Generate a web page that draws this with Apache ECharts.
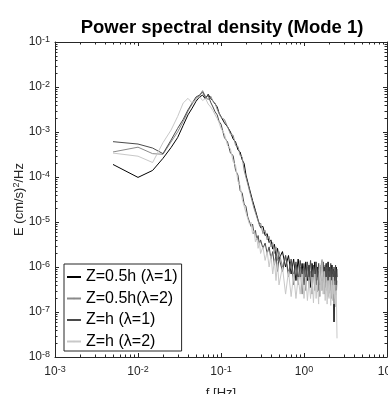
<!DOCTYPE html>
<html>
<head>
<meta charset="utf-8">
<script src="https://cdn.jsdelivr.net/npm/echarts@6/dist/echarts.min.js"></script>
<style>
html,body{margin:0;padding:0;background:#fff;}
#c{width:388px;height:394px;}
</style>
</head>
<body>
<div id="c"></div>
<script>
const freq = [0.005,0.01,0.015,0.02,0.025,0.03,0.035,0.04,0.045,0.05,
0.055,0.06,0.065,0.07,0.075,0.08,0.085,0.09,0.095,0.1,
0.11,0.12,0.13,0.14,0.15,0.16,0.17,0.18,0.19,0.2,
0.21,0.22,0.23,0.24,0.25,0.26,0.27,0.28,0.29,0.3,
0.32,0.34,0.36,0.38,0.4,0.42,0.44,0.46,0.48,0.5,
0.55,0.6,0.65,0.7,0.75,0.8,0.85,0.9,0.95,1.0,
1.05,1.1,1.15,1.2,1.25,1.3,1.35,1.4,1.45,1.5,
1.55,1.6,1.65,1.7,1.75,1.8,1.85,1.9,1.95,2.0,
2.05,2.1,2.15,2.2,2.25,2.3,2.35,2.4,2.45,2.5];

const seriesNames = ['Z=0.5h (\u03bb=1)','Z=0.5h(\u03bb=2)','Z=h (\u03bb=1)','Z=h (\u03bb=2)'];

const e05h_l1 = [1.9e-4,9.8e-5,1.4e-4,2.6e-4,4.5e-4,7.5e-4,1.4e-3,2.4e-3,3.4e-3,4.8e-3,
6.0e-3,6.6e-3,5.4e-3,6.9e-3,5.6e-3,4.9e-3,4.2e-3,3.6e-3,2.6e-3,2.4e-3,
1.6e-3,1.3e-3,1.0e-3,7.0e-4,6.0e-4,4.0e-4,3.6e-4,2.4e-4,2.0e-4,1.1e-4,
1.0e-4,5.5e-5,5.0e-5,3.0e-5,2.8e-5,1.8e-5,1.8e-5,1.1e-5,1.2e-5,7.5e-6,
8e-6,5e-6,5.5e-6,3.5e-6,4e-6,2.5e-6,3.2e-6,1.8e-6,2.6e-6,1.5e-6,
2.2e-6,1.0e-6,1.8e-6,7e-7,1.5e-6,5e-7,1.5e-6,6e-7,1.2e-6,4e-7,
1.3e-6,5e-7,1.1e-6,3.5e-7,1.2e-6,6e-7,1.3e-6,4e-7,1.0e-6,3e-7,
1.1e-6,5e-7,1.4e-6,4.5e-7,1.0e-6,3.5e-7,1.2e-6,5e-7,1.3e-6,4e-7,
1.0e-6,3e-7,1.1e-6,4e-7,9e-7,6e-8,8e-7,3e-7,1.0e-6,6e-7];

const e05h_l2 = [3.6e-4,4.6e-4,3.3e-4,3.2e-4,6.0e-4,1.0e-3,1.7e-3,2.9e-3,4.2e-3,5.6e-3,
6.4e-3,8.3e-3,6.2e-3,5.2e-3,6.3e-3,4.8e-3,4.4e-3,3.2e-3,3.0e-3,2.1e-3,
1.9e-3,1.3e-3,9e-4,8.5e-4,5.0e-4,4.8e-4,3.0e-4,2.8e-4,1.4e-4,1.3e-4,
7e-5,6.5e-5,3.6e-5,3.4e-5,2.0e-5,2.1e-5,1.3e-5,1.4e-5,8.5e-6,9.5e-6,
5.5e-6,6.5e-6,4e-6,4.8e-6,2.8e-6,3.5e-6,2.0e-6,2.8e-6,1.4e-6,2.2e-6,
1.0e-6,1.8e-6,6e-7,1.3e-6,4e-7,1.1e-6,4e-7,1.0e-6,2.5e-7,9e-7,
3e-7,1.0e-6,3.5e-7,8e-7,2.5e-7,9e-7,3e-7,1.0e-6,2.8e-7,8e-7,
2.2e-7,1.1e-6,3e-7,9e-7,2.5e-7,8e-7,3e-7,1.0e-6,2.2e-7,8e-7,
2.6e-7,9e-7,2e-7,7e-7,2.5e-7,8e-7,2e-7,6e-7,2.4e-7,5e-7];

const eh_l1 = [6.1e-4,5.4e-4,4.4e-4,3.3e-4,6.6e-4,1.2e-3,1.9e-3,3.1e-3,4.4e-3,6.0e-3,
6.6e-3,7.7e-3,5.8e-3,6.6e-3,4.6e-3,3.6e-3,2.8e-3,2.4e-3,1.7e-3,1.5e-3,
7.5e-4,6.0e-4,3.4e-4,3.0e-4,1.4e-4,1.1e-4,5.0e-5,4.4e-5,2.5e-5,2.2e-5,
1.3e-5,1.4e-5,8e-6,9e-6,5.5e-6,6.5e-6,4e-6,5e-6,3.2e-6,4e-6,
2.6e-6,3.4e-6,2.0e-6,2.8e-6,1.5e-6,2.2e-6,1.1e-6,1.9e-6,8e-7,1.6e-6,
8e-7,1.8e-6,7e-7,1.5e-6,6e-7,1.3e-6,5e-7,1.4e-6,6e-7,1.2e-6,
5e-7,1.3e-6,6e-7,1.4e-6,4.5e-7,1.1e-6,5e-7,1.3e-6,6e-7,1.2e-6,
4e-7,1.0e-6,5e-7,1.3e-6,6e-7,1.1e-6,4.5e-7,1.2e-6,5e-7,1.0e-6,
4e-7,1.2e-6,5e-7,1.1e-6,4e-7,1.0e-6,5e-7,1.1e-6,4e-7,9e-7];

const eh_l2 = [3.4e-4,2.9e-4,2.1e-4,5.8e-4,1.1e-3,2.2e-3,4.4e-3,5.6e-3,4.4e-3,5.2e-3,
6.2e-3,5.0e-3,5.6e-3,4.2e-3,3.6e-3,3.0e-3,2.4e-3,2.0e-3,1.6e-3,1.2e-3,
9e-4,5.0e-4,4.2e-4,2.2e-4,1.8e-4,8e-5,6.5e-5,3.2e-5,3.0e-5,1.6e-5,
1.6e-5,9e-6,1.0e-5,5.5e-6,6.5e-6,3.6e-6,4.5e-6,2.6e-6,3.5e-6,2.0e-6,
2.8e-6,1.4e-6,2.2e-6,1.0e-6,1.8e-6,7e-7,1.4e-6,5e-7,1.2e-6,4e-7,
1.0e-6,2.5e-7,8e-7,2.2e-7,7e-7,2e-7,6e-7,2.5e-7,7e-7,2e-7,
6e-7,1.8e-7,5e-7,2e-7,6e-7,1.6e-7,7e-7,2e-7,5e-7,1.5e-7,
1.2e-6,3e-7,1.5e-6,2.5e-7,8e-7,1.8e-7,6e-7,1.5e-7,5e-7,2e-7,
6e-7,1.4e-7,5e-7,1.8e-7,6e-7,1.5e-7,4e-7,1.3e-7,3e-7,2.6e-8];

const lineColors = ['#000000','#8a8a8a','#4a4a4a','#c8c8c8'];
const allSeries = [e05h_l1, e05h_l2, eh_l1, eh_l2];

const xMin = 0.001, xMax = 10;
const yMin = 1e-8, yMax = 0.1;
const minorMult = [2,3,4,5,6,7,8,9];
const xDecades = [0.001, 0.01, 0.1, 1];
const yDecades = [1e-8, 1e-7, 1e-6, 1e-5, 1e-4, 1e-3, 1e-2];

const axisColor = '#262626';
const FONT = 'Liberation Sans, Arial, sans-serif';
const labelRich = {
  b: {fontSize: 12, fontFamily: FONT, color: axisColor, lineHeight: 14},
  s: {fontSize: 9, fontFamily: FONT, color: axisColor, verticalAlign: 'top', lineHeight: 9, padding: [0,0,6,0]}
};
function expLabel(v){
  const e = Math.round(Math.log10(v));
  return '{b|10}{s|' + e + '}';
}

function makeAxis(isX, pos, showLabel, min, max, split){
  return {
    type: 'log', logBase: 10, min: min, max: max, splitNumber: split,
    position: pos,
    axisLine: {show: true, lineStyle: {color: axisColor, width: 1}},
    axisTick: {show: true, inside: true, length: 4, lineStyle: {color: axisColor}},
    minorTick: {show: false},
    splitLine: {show: false},
    axisLabel: {show: showLabel, formatter: expLabel, rich: labelRich, margin: isX ? 8 : 5},
  };
}

const xBottom = makeAxis(true, 'bottom', true, xMin, xMax, 4);
xBottom.name = 'f [Hz]';
xBottom.nameLocation = 'middle';
xBottom.nameGap = 30;
xBottom.nameMoveOverlap = false;
xBottom.nameTextStyle = {fontSize: 13, fontFamily: FONT, color: axisColor, verticalAlign: 'top'};
const xTop = makeAxis(true, 'top', false, xMin, xMax, 4);

const yLeft = makeAxis(false, 'left', true, yMin, yMax, 7);
yLeft.name = 'E (cm/s){s|2}/Hz';
yLeft.nameLocation = 'middle';
yLeft.nameGap = 29;
yLeft.nameMoveOverlap = false;
yLeft.nameTextStyle = {fontSize: 13, fontFamily: FONT, color: axisColor, verticalAlign: 'bottom',
  rich: {s: {fontSize: 9, fontFamily: FONT, color: axisColor, verticalAlign: 'top', padding: [0,0,5,0]}}};
const yRight = makeAxis(false, 'right', false, yMin, yMax, 7);

const minorX = [];
xDecades.forEach(d => minorMult.forEach(m => minorX.push([d * m, yMin])));
const minorY = [];
yDecades.forEach(d => minorMult.forEach(m => minorY.push([xMin, d * m])));

function crisp(v){ return Math.round(v) + 0.5; }

const lineSeries = allSeries.map((arr, i) => ({
  name: seriesNames[i],
  type: 'line',
  xAxisIndex: 0, yAxisIndex: 0,
  data: freq.map((f, j) => [f, arr[j]]),
  symbol: 'none', showSymbol: false,
  lineStyle: {color: lineColors[i], width: 1},
  itemStyle: {color: lineColors[i]},
  clip: true, z: 2
}));

const minorXSeries = {
  type: 'custom', xAxisIndex: 0, yAxisIndex: 0, silent: true, clip: false, z: 3,
  data: minorX,
  renderItem: function(params, api){
    const v = api.value(0);
    const b = api.coord([v, yMin]);
    const t = api.coord([v, yMax]);
    const x = crisp(b[0]);
    return {type: 'group', children: [
      {type: 'line', shape: {x1: x, y1: b[1], x2: x, y2: b[1] - 2.5}, style: {stroke: axisColor, lineWidth: 1}},
      {type: 'line', shape: {x1: x, y1: t[1], x2: x, y2: t[1] + 2.5}, style: {stroke: axisColor, lineWidth: 1}}
    ]};
  }
};
const minorYSeries = {
  type: 'custom', xAxisIndex: 0, yAxisIndex: 0, silent: true, clip: false, z: 3,
  data: minorY,
  renderItem: function(params, api){
    const v = api.value(1);
    const l = api.coord([xMin, v]);
    const r = api.coord([xMax, v]);
    const y = crisp(l[1]);
    return {type: 'group', children: [
      {type: 'line', shape: {x1: l[0], y1: y, x2: l[0] + 2.5, y2: y}, style: {stroke: axisColor, lineWidth: 1}},
      {type: 'line', shape: {x1: r[0], y1: y, x2: r[0] - 2.5, y2: y}, style: {stroke: axisColor, lineWidth: 1}}
    ]};
  }
};

const chart = echarts.init(document.getElementById('c'), null, {renderer: 'canvas'});
chart.setOption({
  animation: false,
  backgroundColor: '#fff',
  title: {
    text: 'Power spectral density (Mode 1)',
    left: 217, textAlign: 'center', top: 13,
    textStyle: {fontSize: 18.5, fontWeight: 'bold', fontFamily: FONT, color: '#000'}
  },
  grid: {left: 55, right: 1, top: 42, bottom: 37, containLabel: false, outerBoundsMode: 'none'},
  xAxis: [xBottom, xTop],
  yAxis: [yLeft, yRight],
  legend: {
    orient: 'vertical', left: 64, top: 264,
    data: seriesNames,
    itemWidth: 14, itemHeight: 2, itemGap: 5.5,
    padding: [5, 4, 1.5, 2],
    borderColor: axisColor, borderWidth: 1, backgroundColor: '#fff',
    textStyle: {fontSize: 16, fontFamily: FONT, color: '#000', lineHeight: 16}
  },
  series: lineSeries.concat([minorXSeries, minorYSeries])
});
</script>
</body>
</html>
